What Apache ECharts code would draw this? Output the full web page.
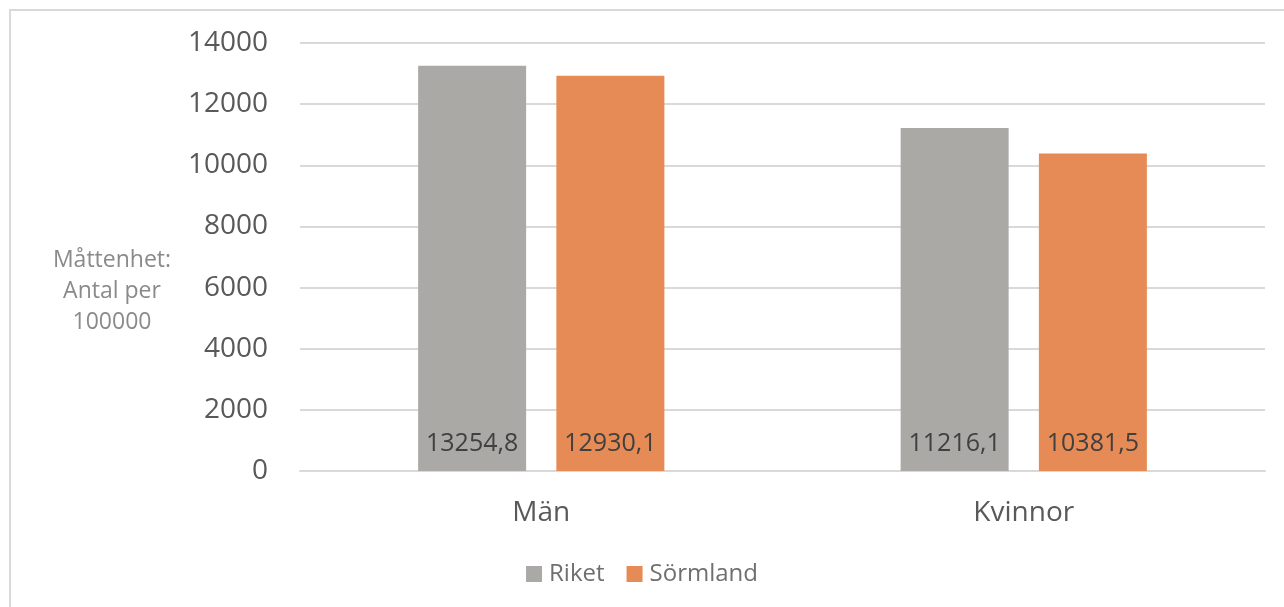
<!DOCTYPE html>
<html>
<head>
<meta charset="utf-8">
<script src="https://cdn.jsdelivr.net/npm/echarts@6/dist/echarts.min.js"></script>
<style>
  html, body { margin: 0; padding: 0; background: #fff; overflow: hidden; }
  #frame { position: absolute; left: 9px; top: 9px; width: 1290px; height: 620px; border: 2px solid #d9d9d9; box-sizing: border-box; }
  #chart { position: absolute; left: 0; top: 0; width: 1284px; height: 607px; }
</style>
</head>
<body>
<div id="frame"></div>
<div id="chart"></div>
<script>
const categories = ["Män", "Kvinnor"];
const riket = [13254.8, 11216.1];
const sormland = [12930.1, 10381.5];
const seriesNames = ["Riket", "Sörmland"];

const chart = echarts.init(document.getElementById("chart"));
const fontFamily = "'Open Sans', 'Noto Sans', sans-serif";

const fmt = (p) => p.value.toFixed(1).replace(".", ",");

const option = {
  animation: false,
  textStyle: { fontFamily: fontFamily },
  grid: {
    left: 300,
    right: 19,
    top: 43,
    bottom: 136,
  },
  legend: {
    bottom: 16,
    left: "center",
    itemWidth: 16,
    itemHeight: 16,
    itemGap: 22,
    icon: "rect",
    textStyle: { fontSize: 24, color: "#6f6f6f", fontFamily: fontFamily, padding: [0, 0, 0, 2] },
    data: seriesNames,
  },
  graphic: [
    {
      type: "text",
      x: 112,
      y: 245,
      style: {
        text: "Måttenhet:\nAntal per\n100000",
        fill: "#8a8a8a",
        font: "23px " + fontFamily,
        align: "center",
        lineHeight: 31,
      },
    },
  ],
  xAxis: {
    type: "category",
    data: categories,
    axisLine: { show: true, lineStyle: { color: "#d9d9d9", width: 2 } },
    axisTick: { show: false },
    axisLabel: { fontSize: 28, color: "#595959", margin: 28 },
  },
  yAxis: {
    type: "value",
    min: 0,
    max: 14000,
    interval: 2000,
    axisLine: { show: false },
    axisTick: { show: false },
    axisLabel: {
      fontSize: 28,
      color: "#595959",
      margin: 32,
      formatter: (v) => String(v),
    },
    splitLine: { lineStyle: { color: "#d9d9d9", width: 2 } },
  },
  series: [
    {
      name: seriesNames[0],
      type: "bar",
      data: riket,
      barWidth: 108,
      barGap: "28%",
      itemStyle: { color: "#aba9a6" },
      label: {
        show: true,
        position: "insideBottom",
        distance: 15,
        fontSize: 25,
        color: "#404040",
        formatter: fmt,
      },
    },
    {
      name: seriesNames[1],
      type: "bar",
      data: sormland,
      barWidth: 108,
      barGap: "28%",
      itemStyle: { color: "#e68b55" },
      label: {
        show: true,
        position: "insideBottom",
        distance: 15,
        fontSize: 25,
        color: "#404040",
        formatter: fmt,
      },
    },
  ],
};

chart.setOption(option);
</script>
</body>
</html>
